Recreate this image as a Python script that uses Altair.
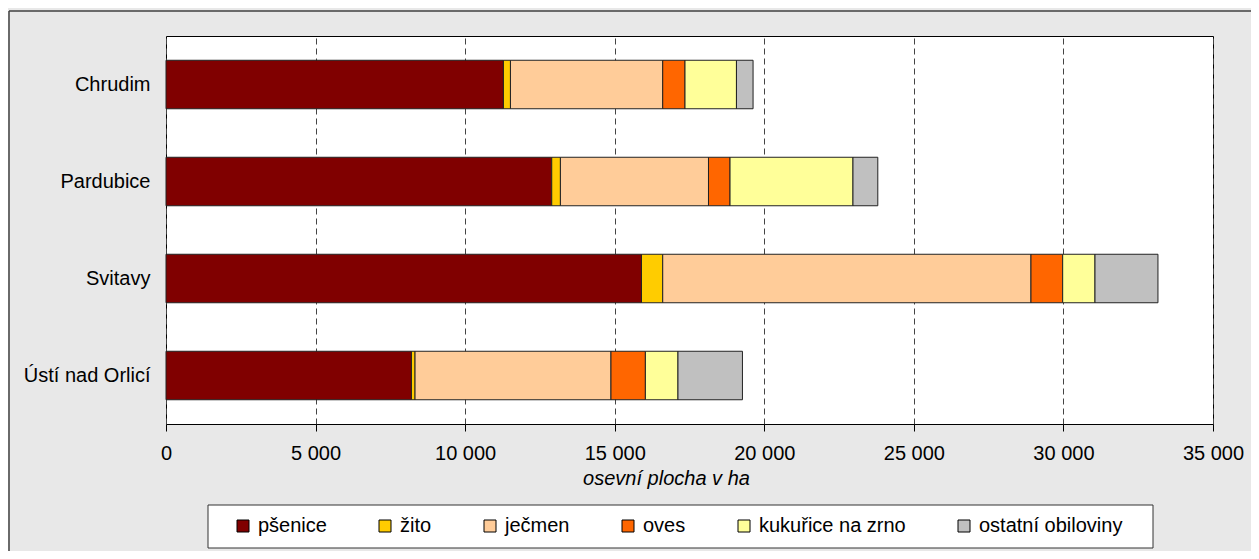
import altair as alt
import pandas as pd

# ---- data ----
districts = ["Chrudim", "Pardubice", "Svitavy", "Ústí nad Orlicí"]
crops = ["pšenice", "žito", "ječmen", "oves", "kukuřice na zrno", "ostatní obiloviny"]
colors = ["#800000", "#FFCC00", "#FFCC99", "#FF6600", "#FFFF99", "#C0C0C0"]

psenice = [11280, 12895, 15895, 8205]
zito = [235, 290, 710, 120]
jecmen = [5090, 4950, 12310, 6550]
oves = [745, 720, 1060, 1150]
kukurice = [1720, 4110, 1080, 1090]
ostatni = [555, 830, 2105, 2155]

x_ticks = [0, 5000, 10000, 15000, 20000, 25000, 30000, 35000]
x_title = "osevní plocha v ha"

series = [psenice, zito, jecmen, oves, kukurice, ostatni]
rows = []
for ci, (crop, vals) in enumerate(zip(crops, series)):
    for d, v in zip(districts, vals):
        rows.append({"okres": d, "plodina": crop, "poradi": ci, "ha": v})
df = pd.DataFrame(rows)

FONT = "Liberation Sans"

bars = alt.Chart(df).mark_bar(stroke="#222222", strokeWidth=1).encode(
    x=alt.X(
        "ha:Q",
        stack="zero",
        scale=alt.Scale(domain=[0, 35000], nice=False, zero=True),
        axis=alt.Axis(
            values=x_ticks,
            title=x_title,
            labelExpr="replace(format(datum.value, ','), ',', ' ')",
            grid=True,
            gridDash=[6, 4],
            gridColor="#444444",
            gridWidth=1,
            domain=False,
            ticks=True,
            tickColor="#000000",
            tickSize=7,
            labelFont=FONT,
            labelFontSize=20,
            labelColor="#000000",
            labelPadding=12,
            labelFlush=False,
            labelOverlap=False,
            titleFont=FONT,
            titleFontSize=20,
            titleFontStyle="italic",
            titleFontWeight="normal",
            titleColor="#000000",
            titleX=500,
            titleY=54,
            titleAlign="center",
            titleBaseline="middle",
        ),
    ),
    y=alt.Y(
        "okres:N",
        sort=districts,
        scale=alt.Scale(paddingInner=0.5, paddingOuter=0.25),
        axis=alt.Axis(
            title=None,
            ticks=False,
            domain=False,
            grid=False,
            labelFont=FONT,
            labelFontSize=20,
            labelColor="#000000",
            labelPadding=16,
            labelLimit=400,
        ),
    ),
    color=alt.Color(
        "plodina:N",
        scale=alt.Scale(domain=crops, range=colors),
        legend=alt.Legend(
            title=None,
            orient="none",
            legendX=67,
            legendY=480,
            direction="horizontal",
            symbolType="square",
            symbolSize=144,
            symbolStrokeColor="#000000",
            symbolStrokeWidth=1,
            symbolOpacity=1,
            labelFont=FONT,
            labelFontSize=20,
            labelColor="#000000",
            labelOffset=5,
            columnPadding=48,
            padding=0,
        ),
    ),
    order=alt.Order("poradi:Q"),
)

deco = alt.Data(values=[{"k": 1}])
border_left = alt.Chart(deco).mark_rule(color="#404040", strokeWidth=1.5).encode(
    x=alt.value(-157), y=alt.value(-25), y2=alt.value(700)
)
border_top = alt.Chart(deco).mark_rule(color="#404040", strokeWidth=1.5).encode(
    x=alt.value(-157), x2=alt.value(1300), y=alt.value(-25)
)
legend_box = alt.Chart(deco).mark_rect(fill="#FFFFFF", stroke="#333333", strokeWidth=1).encode(
    x=alt.value(42), x2=alt.value(987), y=alt.value(469), y2=alt.value(512)
)

chart = (
    alt.layer(border_left, border_top, legend_box, bars)
    .properties(
        width=1047,
        height=388,
        autosize=alt.AutoSizeParams(type="none"),
        padding={"left": 158, "top": 28, "right": 38, "bottom": 127},
        background="#E8E8E8",
    )
    .configure_view(stroke="#000000", strokeWidth=1, fill="#FFFFFF")
)

chart.save("out.html", embed_options={"renderer": "svg", "actions": False})
